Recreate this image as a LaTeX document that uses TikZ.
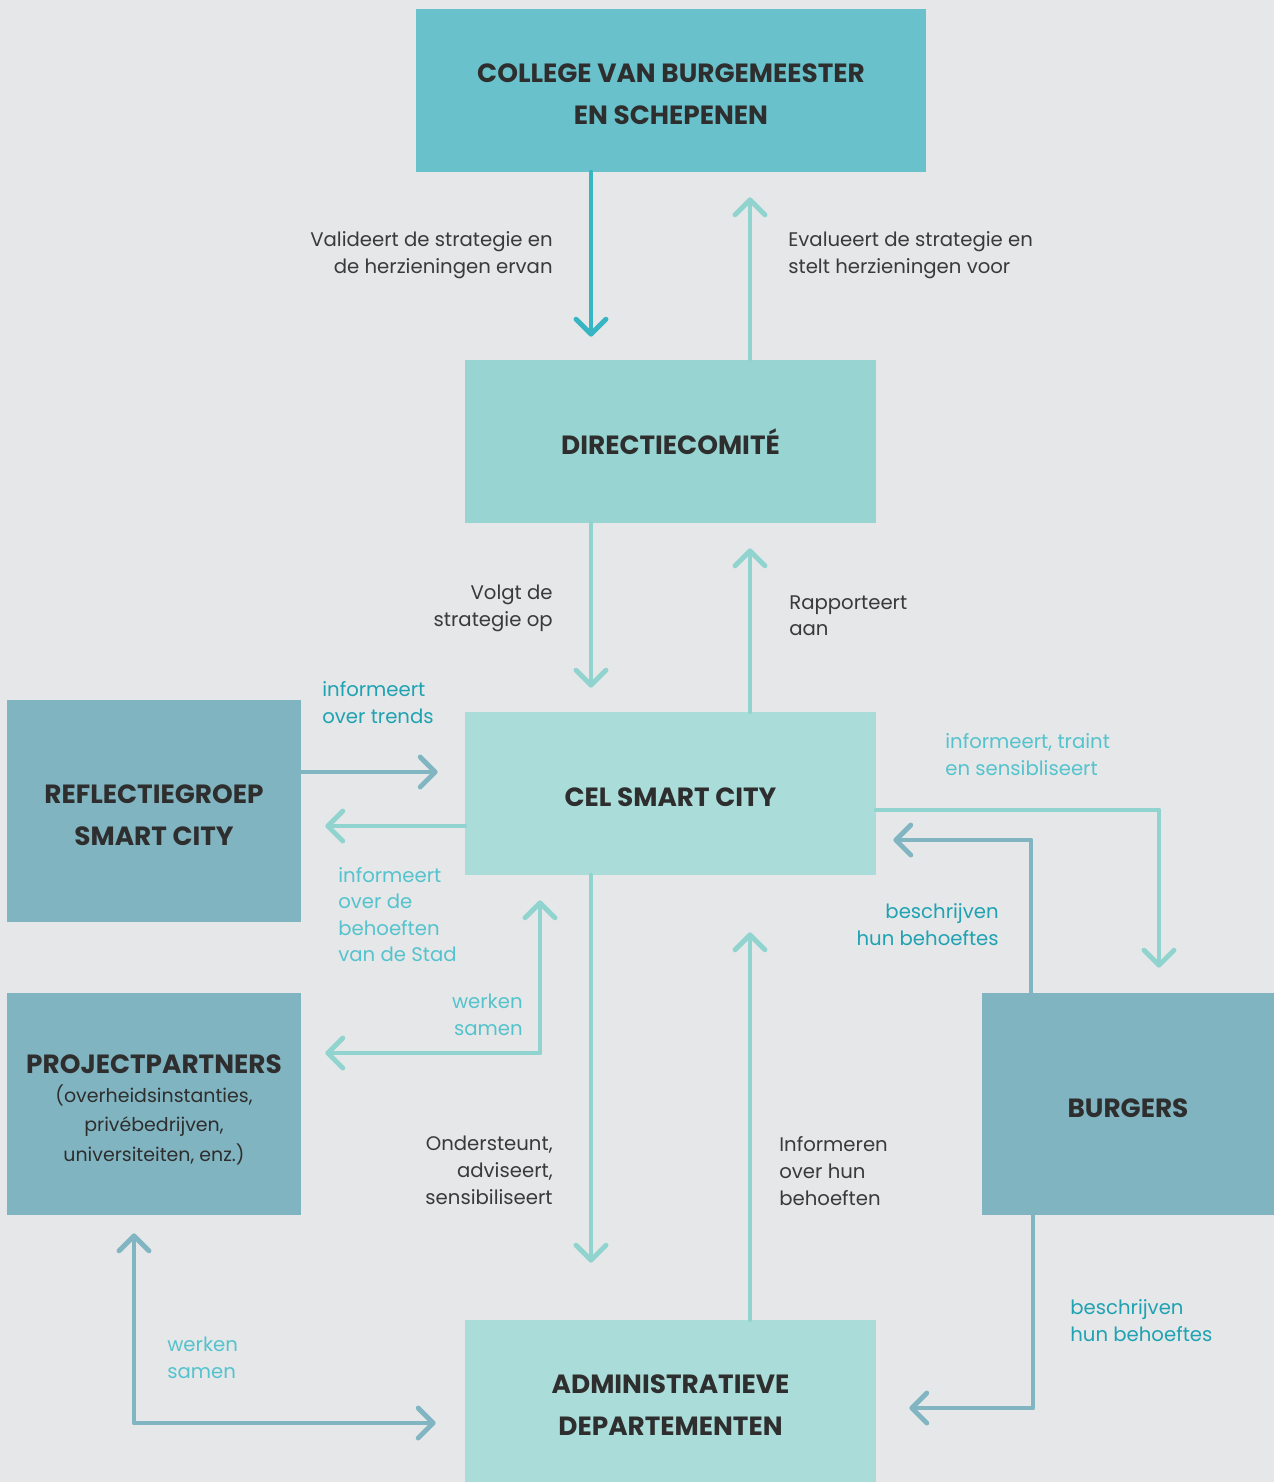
\documentclass[tikz,border=0pt]{standalone}
\usepackage{fontspec}
\setmainfont{Poppins}
\usetikzlibrary{arrows.meta}

\definecolor{bgcol}{HTML}{E5E7E8}
\definecolor{collegecol}{HTML}{69C1CB}
\definecolor{directiecol}{HTML}{98D5D2}
\definecolor{celcol}{HTML}{AADDDA}
\definecolor{sidecol}{HTML}{80B4C1}
\definecolor{ink}{HTML}{2E2E2E}
\definecolor{labelink}{HTML}{3A3A3A}
\definecolor{arrowdark}{HTML}{38B5C3}
\definecolor{arrowlight}{HTML}{91D4CF}
\definecolor{arrowgrey}{HTML}{82B5C2}
\definecolor{tealtext}{HTML}{1FA2B2}
\definecolor{tealsoft}{HTML}{55C3CD}

\newcommand{\headfont}{\fontsize{15}{23.8}\selectfont\bfseries}
\newcommand{\bodyfont}{\fontsize{11.2}{15.3}\selectfont}
\newcommand{\headstrut}{\rule{0pt}{15pt}}

\tikzset{
  box/.style={rectangle, inner sep=0pt, align=center, text=ink, font=\headfont},
  flow/.style={line width=2.8pt, line cap=round, line join=round,
    -{Straight Barb[length=3mm,width=6mm,round]}},
  twoway/.style={flow, {Straight Barb[length=3mm,width=6mm,round]}-{Straight Barb[length=3mm,width=6mm,round]}},
  lbl/.style={inner sep=0pt, font=\bodyfont, text=labelink},
  lblr/.style={lbl, anchor=north east, align=right},
  lbll/.style={lbl, anchor=north west, align=left}
}

\begin{document}
\begin{tikzpicture}[x=0.02cm, y=-0.02cm]
  \fill[bgcol] (0,0) rectangle (1274,1482);
  \useasboundingbox (0,0) rectangle (1274,1482);

  % boxes
  \node[box, fill=collegecol, minimum width=10.2cm, minimum height=3.26cm] (college) at (671,90.5)
    {\headstrut COLLEGE VAN BURGEMEESTER\\EN SCHEPENEN};
  \node[box, fill=directiecol, minimum width=8.22cm, minimum height=3.26cm] (directie) at (670.5,441.5)
    {\headstrut DIRECTIECOMITÉ};
  \node[box, fill=celcol, minimum width=8.22cm, minimum height=3.26cm] (cel) at (670.5,793.5)
    {\headstrut CEL SMART CITY};
  \node[box, fill=sidecol, minimum width=5.88cm, minimum height=4.44cm] (reflectie) at (154,811)
    {\headstrut REFLECTIEGROEP\\SMART CITY};
  \node[box, fill=sidecol, minimum width=5.88cm, minimum height=4.44cm,
    font=\fontsize{10.8}{16.7}\selectfont] (partners) at (154,1104)
    {{\headfont\rule{0pt}{17pt}PROJECTPARTNERS}\\(overheidsinstanties,\\privébedrijven,\\universiteiten, enz.)};
  \node[box, fill=sidecol, minimum width=5.84cm, minimum height=4.44cm] (burgers) at (1128,1104)
    {\headstrut BURGERS};
  \node[box, fill=celcol, minimum width=8.22cm, minimum height=3.24cm] (admin) at (670.5,1401)
    {\headstrut ADMINISTRATIEVE\\DEPARTEMENTEN};

  % connectors
  \draw[flow, arrowdark, shorten >=0.46cm] (591,0 |- college.south) -- (591,0 |- directie.north);
  \draw[flow, arrowlight, shorten >=0.5cm] (750,0 |- directie.north) -- (750,0 |- college.south);
  \draw[flow, arrowlight, shorten >=0.48cm] (591,0 |- directie.south) -- (591,0 |- cel.north);
  \draw[flow, arrowlight, shorten >=0.5cm] (750,0 |- cel.north) -- (750,0 |- directie.south);
  \draw[flow, arrowgrey, shorten >=0.54cm] (reflectie.east |- 0,772) -- (cel.west |- 0,772);
  \draw[flow, arrowlight, shorten >=0.48cm] (cel.west |- 0,826) -- (reflectie.east |- 0,826);
  \draw[flow, arrowlight, shorten >=0.5cm] (cel.east |- 0,810) -| (1159,0 |- burgers.north);
  \draw[flow, arrowgrey, shorten >=0.34cm] (1031,0 |- burgers.north) |- (cel.east |- 0,840);
  \draw[twoway, arrowlight, shorten <=0.5cm, shorten >=0.48cm] (540,0 |- cel.south) |- (partners.east |- 0,1053);
  \draw[flow, arrowlight, shorten >=1.14cm] (591,0 |- cel.south) -- (591,0 |- admin.north);
  \draw[flow, arrowlight, shorten >=1.14cm] (750,0 |- admin.north) -- (750,0 |- cel.south);
  \draw[twoway, arrowgrey, shorten <=0.36cm, shorten >=0.58cm] (134,0 |- partners.south) |- (admin.west |- 0,1423);
  \draw[flow, arrowgrey, shorten >=0.66cm] (1033,0 |- burgers.south) |- (admin.east |- 0,1408);

  % labels
  \node[lblr] (valideert) at (553,231) {Valideert de strategie en\\de herzieningen ervan};
  \node[lbll] (evalueert) at (788,231) {Evalueert de strategie en\\stelt herzieningen voor};
  \node[lblr] (volgt) at (553,585) {Volgt de\\strategie op};
  \node[lbll] (rapporteert) at (789,595) {Rapporteert\\aan};
  \node[lbll, text=tealtext] (trends) at (322,681) {informeert\\over trends};
  \node[lbll, text=tealsoft] (traint) at (945,733) {informeert, traint\\en sensibliseert};
  \node[lbll, text=tealsoft, font=\fontsize{11.2}{15.1}\selectfont] (behoeften) at (338,867)
    {informeert\\over de\\behoeften\\van de Stad};
  \node[lblr, text=tealtext] (beschrijvenA) at (999,903) {beschrijven\\hun behoeftes};
  \node[lblr, text=tealsoft] (samenA) at (523,994) {werken\\samen};
  \node[lblr] (ondersteunt) at (553,1136) {Ondersteunt,\\adviseert,\\sensibiliseert};
  \node[lbll] (informeren) at (779,1136) {Informeren\\over hun\\behoeften};
  \node[lbll, text=tealsoft] (samenB) at (167,1337) {werken\\samen};
  \node[lbll, text=tealtext] (beschrijvenB) at (1070,1299) {beschrijven\\hun behoeftes};
\end{tikzpicture}
\end{document}
